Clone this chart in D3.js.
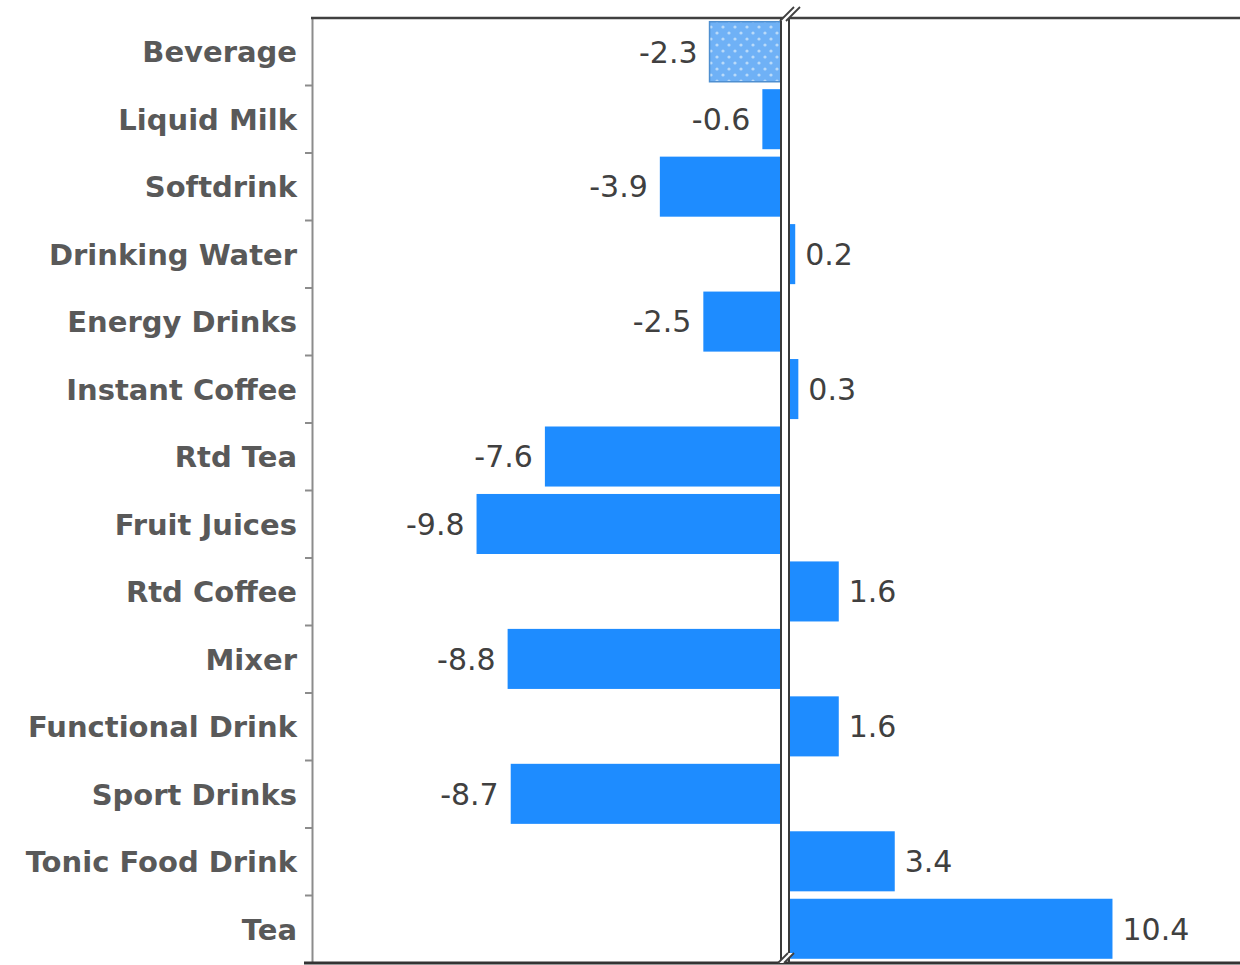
<!DOCTYPE html>
<html>
<head>
<meta charset="utf-8">
<script src="https://cdn.jsdelivr.net/npm/d3@7"></script>
<style>
  body { margin: 0; background: #fff; }
  .cat { font-family: "DejaVu Sans", sans-serif; font-weight: bold; font-size: 29px; fill: #595959; }
  .val { font-family: "DejaVu Sans", sans-serif; font-size: 30px; fill: #404040; }
</style>
</head>
<body>
<svg class="chart"></svg>
<script>
// data
var categories = ['Beverage', 'Liquid Milk', 'Softdrink', 'Drinking Water', 'Energy Drinks',
  'Instant Coffee', 'Rtd Tea', 'Fruit Juices', 'Rtd Coffee', 'Mixer',
  'Functional Drink', 'Sport Drinks', 'Tonic Food Drink', 'Tea'];
var values = [-2.3, -0.6, -3.9, 0.2, -2.5, 0.3, -7.6, -9.8, 1.6, -8.8, 1.6, -8.7, 3.4, 10.4];
var highlight = ['Beverage'];

// chart
var width = 1240;
var height = 965;
var margin = {left: 312, top: 18, bottom: 2};
var zeroL = 781, zeroR = 789; // broken axis at zero

var chart = d3.select('.chart')
    .attr('width', width)
    .attr('height', height);

var defs = chart.append('defs');
var pat = defs.append('pattern')
    .attr('id', 'dots')
    .attr('patternUnits', 'userSpaceOnUse')
    .attr('width', 12)
    .attr('height', 12);
pat.append('rect').attr('width', 12).attr('height', 12).attr('fill', '#6fb1f6');
pat.append('circle').attr('cx', 3).attr('cy', 3).attr('r', 1.6).attr('fill', '#b9daf9');
pat.append('circle').attr('cx', 9).attr('cy', 9).attr('r', 1.6).attr('fill', '#b9daf9');

var xNeg = d3.scaleLinear().domain([-15, 0]).range([315, zeroL]);
var xPos = d3.scaleLinear().domain([0, 14.5]).range([zeroR, width]);

var y = d3.scaleBand()
    .domain(categories)
    .range([margin.top, height - margin.bottom - 0.5])
    .paddingInner(0.11)
    .paddingOuter(0.055);

var yAxisScale = d3.scaleBand().domain(categories).range([margin.top, height - margin.bottom]);

var data = categories.map(function(c, i) { return {name: c, value: values[i]}; });

// bars
chart.selectAll('.bar')
    .data(data)
  .enter().append('rect')
    .attr('class', 'bar')
    .attr('x', function(d) { return d.value < 0 ? xNeg(d.value) : xPos(0); })
    .attr('width', function(d) { return d.value < 0 ? xNeg(0) - xNeg(d.value) : xPos(d.value) - xPos(0); })
    .attr('y', function(d) { return y(d.name); })
    .attr('height', y.bandwidth())
    .attr('fill', function(d) { return highlight.indexOf(d.name) >= 0 ? 'url(#dots)' : '#1e8cff'; })
    .attr('stroke', function(d) { return highlight.indexOf(d.name) >= 0 ? '#4f8fd0' : 'none'; })
    .attr('stroke-width', 1.5);

// value labels
chart.selectAll('.val')
    .data(data)
  .enter().append('text')
    .attr('class', 'val')
    .attr('x', function(d) { return d.value < 0 ? xNeg(d.value) - 12 : xPos(d.value) + 10; })
    .attr('y', function(d) { return y(d.name) + y.bandwidth() / 2; })
    .attr('dy', '0.36em')
    .attr('text-anchor', function(d) { return d.value < 0 ? 'end' : 'start'; })
    .text(function(d) { return d.value.toFixed(1); });

// left axis
var yAxis = d3.axisLeft(yAxisScale).tickSize(0).tickPadding(15);
var gy = chart.append('g')
    .attr('transform', 'translate(' + margin.left + ',0)')
    .call(yAxis);
gy.select('.domain').attr('stroke', '#8c8c8c').attr('stroke-width', 2);
gy.selectAll('text').attr('class', 'cat').attr('dy', '0.36em');

// ticks between categories
var bounds = categories.map(function(c) { return yAxisScale(c); }).slice(1);
chart.selectAll('.sep')
    .data(bounds)
  .enter().append('line')
    .attr('x1', margin.left - 7).attr('x2', margin.left)
    .attr('y1', function(d) { return d; }).attr('y2', function(d) { return d; })
    .attr('stroke', '#8c8c8c').attr('stroke-width', 2);

// frame
chart.append('line')
    .attr('x1', margin.left - 1).attr('x2', width)
    .attr('y1', margin.top).attr('y2', margin.top)
    .attr('stroke', '#404040').attr('stroke-width', 2.5);
chart.append('line')
    .attr('x1', margin.left - 8).attr('x2', width)
    .attr('y1', height - 2).attr('y2', height - 2)
    .attr('stroke', '#333').attr('stroke-width', 3);

// zero lines
[zeroL, zeroR].forEach(function(xv) {
  chart.append('line')
    .attr('x1', xv).attr('x2', xv)
    .attr('y1', margin.top).attr('y2', height - 2)
    .attr('stroke', '#3a3a3a').attr('stroke-width', 2);
});

// break marks
function breakMark(cx, cy, s) {
  var g = chart.append('g').attr('transform', 'translate(' + cx + ',' + cy + ')');
  g.append('polygon')
    .attr('points', [[-s - 3, s], [-s + 3, s], [s + 3, -s], [s - 3, -s]].join(' '))
    .attr('fill', '#fff');
  [-3, 3].forEach(function(o) {
    g.append('line')
      .attr('x1', o - s).attr('y1', s).attr('x2', o + s).attr('y2', -s)
      .attr('stroke', '#404040').attr('stroke-width', 1.8);
  });
}
breakMark(790, 14, 7);
breakMark(786, 958, 5);
</script>
</body>
</html>
